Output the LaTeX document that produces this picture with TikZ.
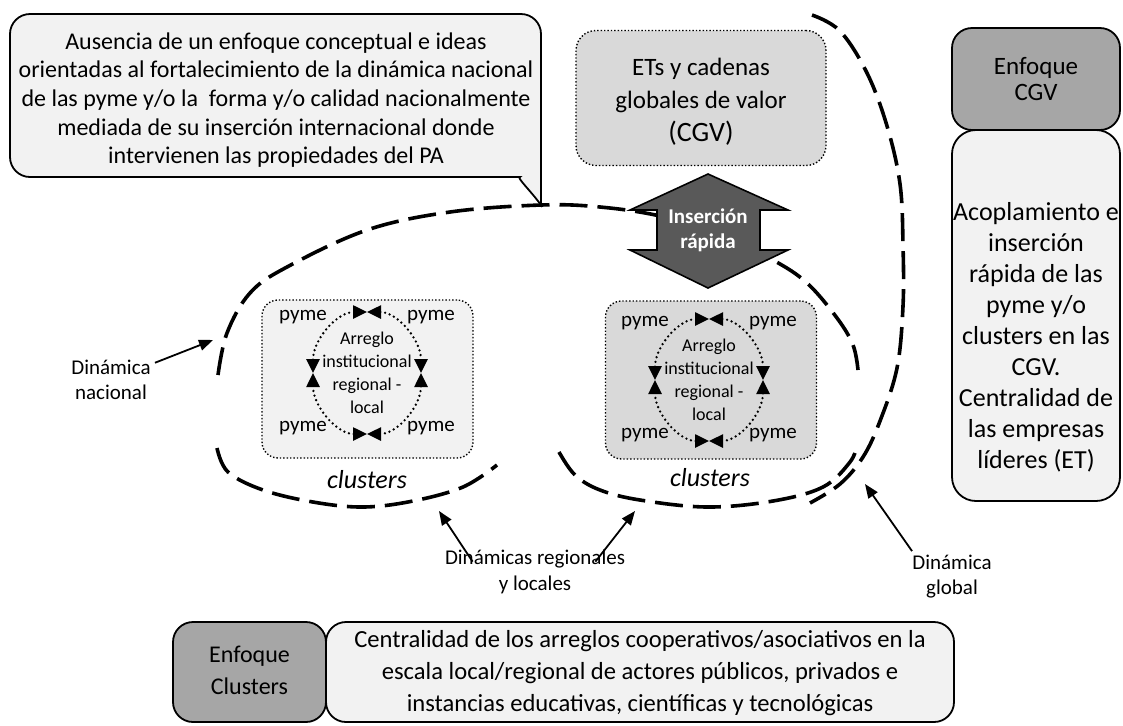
\documentclass[tikz,border=0pt]{standalone}
\usepackage{fontspec}
\setmainfont{Carlito}
\usepackage{tikz}
\usetikzlibrary{arrows.meta}
\definecolor{boxLight}{HTML}{F2F2F2}
\definecolor{boxMid}{HTML}{D9D9D9}
\definecolor{boxDark}{HTML}{A6A6A6}
\definecolor{arrowDark}{HTML}{595959}
\tikzstyle{callout} = [draw=black, line width=0.9pt, fill=boxLight]
\tikzstyle{callouttxt} = [text centered, align=center, inner sep=0pt, font=\fontsize{12}{14.3}\selectfont]
\tikzstyle{etbox} = [rectangle, rounded corners=10pt, minimum width=125pt, minimum height=67.5pt, draw=black, densely dotted, line width=0.7pt, fill=boxMid]
\tikzstyle{ettxt} = [align=center, inner sep=0pt, font=\fontsize{12.5}{16.5}\selectfont]
\tikzstyle{headbox} = [rectangle, rounded corners=10pt, draw=black, line width=0.9pt, fill=boxDark, align=center, font=\fontsize{12.5}{13}\selectfont]
\tikzstyle{descbox} = [rectangle, rounded corners=12pt, draw=black, line width=0.9pt, fill=boxLight, align=center]
\tikzstyle{desctxt} = [align=center, inner sep=0pt, font=\fontsize{13}{15.5}\selectfont]
\tikzstyle{bottxt} = [align=center, inner sep=0pt, font=\fontsize{12.3}{16}\selectfont]
\tikzstyle{clusterbox} = [rectangle, rounded corners=8pt, minimum width=105.5pt, minimum height=79pt, draw=black, densely dotted, line width=0.7pt]
\tikzstyle{pymelbl} = [inner sep=0pt, font=\fontsize{10.5}{12}\selectfont]
\tikzstyle{ringtxt} = [align=center, inner sep=0pt, font=\fontsize{9}{11.5}\selectfont]
\tikzstyle{cllbl} = [inner sep=0pt, font=\fontsize{13}{15}\selectfont\itshape]
\tikzstyle{dynlbl} = [align=center, inner sep=2pt, font=\fontsize{10.5}{12.5}\selectfont]
\tikzstyle{instxt} = [align=center, inner sep=0pt, text=white, font=\fontsize{10.5}{12.5}\selectfont\bfseries]
\tikzstyle{insarrow} = [draw=black, line width=0.8pt, fill=arrowDark]
\tikzstyle{dashline} = [line width=1.8pt, dash pattern=on 14pt off 5pt]
\tikzstyle{ring} = [line width=1.3pt, dash pattern=on 0pt off 2.4pt, line cap=round, {Triangle[length=7pt,width=6.5pt]}-{Triangle[length=7pt,width=6.5pt]}]
\tikzstyle{arrow} = [line width=0.9pt, -{Triangle[length=7pt,width=5.5pt]}]

\begin{document}
\begin{tikzpicture}[x=0.5pt, y=-0.5pt]
\useasboundingbox (0,0) rectangle (1123,725);

\draw [callout] (541,205) [rounded corners=10pt] -- (541,14) -- (10,14) -- (10,177) -- (500,177) [sharp corners] .. controls (516,177) and (530,190) .. (541,205) -- cycle;
\node (calloutTxt) [callouttxt] at (276,100) {Ausencia de un enfoque conceptual e ideas\\orientadas al fortalecimiento de la dinámica nacional\\de las pyme y/o la~ forma y/o calidad nacionalmente\\mediada de su inserción internacional donde\\intervienen las propiedades del PA};

\node (etBox) [etbox] at (701,98) {};
\node (etTxt) [ettxt] at (701,102) {ETs y cadenas\\globales de valor\\{\fontsize{14}{16}\selectfont (CGV)}};

\node (cgvHead) [headbox, minimum width=84pt, minimum height=51pt] at (1036,79) {Enfoque\\CGV};
\node (cgvDesc) [descbox, below of=cgvHead, node distance=118.25pt, minimum width=84pt, minimum height=185.5pt] {};
\node (cgvTxt) [desctxt] at (1036,337) {Acoplamiento e\\inserción\\rápida de las\\pyme y/o\\clusters en las\\CGV.\\Centralidad de\\las empresas\\líderes (ET)};

\node (clHead) [headbox, minimum width=76.5pt, minimum height=50pt] at (249.5,672) {};
\node (clDesc) [descbox, right of=clHead, node distance=195.25pt, minimum width=314pt, minimum height=50pt, rounded corners=10pt] {};
\node (clHeadTxt) [bottxt, font=\fontsize{12}{16}\selectfont] at (249.5,670) {Enfoque\\Clusters};
\node (clDescTxt) [bottxt] at (640,673) {Centralidad de los arreglos cooperativos/asociativos en la\\escala local/regional de actores públicos, privados e\\instancias educativas, científicas y tecnológicas};

\node (clBoxL) [clusterbox, fill=boxLight] at (367.5,379) {};
\node (clBoxR) [clusterbox, fill=boxMid] at (711,380) {};
\coordinate (ringL) at (367,373);
\coordinate (ringR) at (709,380);
\node (arrL) [ringtxt] at (ringL) {Arreglo\\institucional\\regional -\\local};
\node (arrR) [ringtxt] at (ringR) {Arreglo\\institucional\\regional -\\local};
\foreach \a in {0,90,180,270} {
  \draw [ring] ([shift={(\a:54 and 61)}]ringL) arc [start angle=\a, delta angle=90, x radius=54, y radius=61];
  \draw [ring] ([shift={(\a:54 and 61)}]ringR) arc [start angle=\a, delta angle=90, x radius=54, y radius=61];
}
\node (pymeL1) [pymelbl] at (303,317) {pyme};
\node (pymeL2) [pymelbl] at (431,317) {pyme};
\node (pymeL3) [pymelbl] at (303,428) {pyme};
\node (pymeL4) [pymelbl] at (431,428) {pyme};
\node (pymeR1) [pymelbl] at (645,323) {pyme};
\node (pymeR2) [pymelbl] at (773,323) {pyme};
\node (pymeR3) [pymelbl] at (645,435) {pyme};
\node (pymeR4) [pymelbl] at (773,435) {pyme};
\node (clLblL) [cllbl] at (367,480) {clusters};
\node (clLblR) [cllbl] at (710,478) {clusters};

\draw [dashline] plot [smooth, tension=0.6] coordinates {(218,375) (227,333) (250,293) (287,267) (367,230) (450,212) (541,205) (600,207) (660,216) (720,234) (773,260) (807,283) (837,318) (853,345) (858,370)};
\draw [dashline] plot [smooth, tension=0.6] coordinates {(217,448) (228,472) (263,490) (313,502) (363,507) (413,501) (463,487) (497,465)};
\draw [dashline] plot [smooth, tension=0.6] coordinates {(559,452) (575,475) (600,490) (640,500) (707,507) (773,501) (823,487) (850,462) (857,445)};
\draw [dashline] plot [smooth, tension=0.6] coordinates {(812,15) (840,31) (867,73) (887,126) (900,184) (903,245) (903,306) (897,368) (880,421) (863,457) (840,484) (810,503)};

\draw [insarrow] (708,174) -- (788,210) -- (760,210) -- (760,250) -- (788,250) -- (708,288) -- (630,250) -- (657,250) -- (657,210) -- (630,210) -- cycle;
\node (insTxt) [instxt] at (708,230) {Inserción\\rápida};

\node (lblNac) [dynlbl] at (111,380) {Dinámica\\nacional};
\node (lblReg) [dynlbl, font=\fontsize{10.5}{13}\selectfont] at (535,572) {Dinámicas regionales\\y locales};
\node (lblGlob) [dynlbl] at (952,577) {Dinámica\\global};
\coordinate (natTip) at (213,340);
\coordinate (regTipA) at (439,511);
\coordinate (regTipB) at (635,511);
\coordinate (globTip) at (865,484);
\draw [arrow] (lblNac) -- (natTip);
\draw [arrow] ([xshift=16pt,yshift=-8pt]lblReg.north west) -- (regTipA);
\draw [arrow] ([xshift=-17pt,yshift=-8pt]lblReg.north east) -- (regTipB);
\draw [arrow] ([xshift=2pt]lblGlob.north west) -- (globTip);
\end{tikzpicture}
\end{document}
